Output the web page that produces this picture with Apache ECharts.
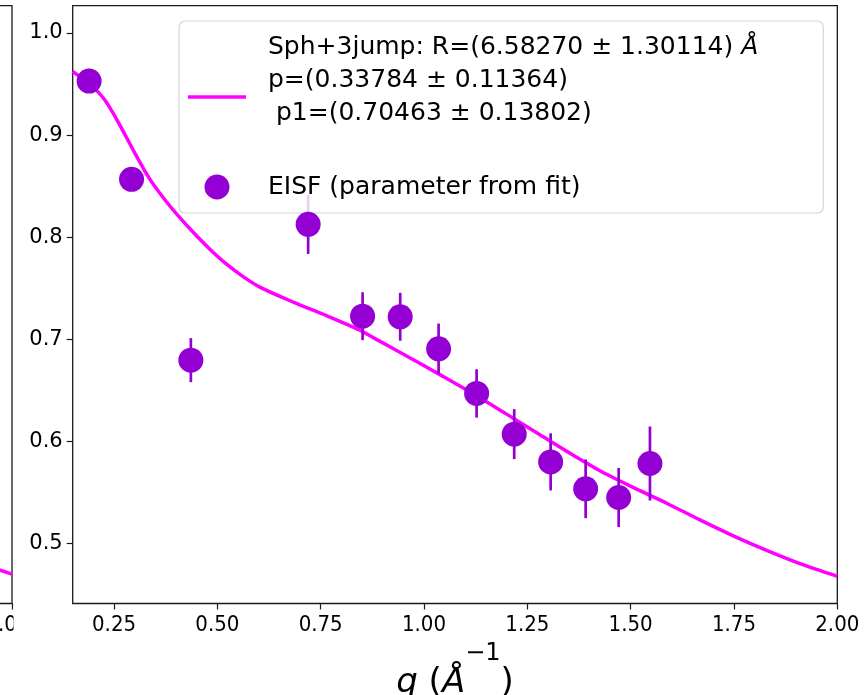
<!DOCTYPE html>
<html><head><meta charset="utf-8">
<script src="https://cdn.jsdelivr.net/npm/echarts@6/dist/echarts.min.js"></script>
<style>html,body{margin:0;padding:0;background:#fff}#c{width:866px;height:695px}</style>
</head><body><div id="c"></div>
<script>
// ---- data ----
const qData   = [0.1897,0.2924,0.4359,0.7197,0.8514,0.9424,1.0353,1.1273,1.2183,1.3064,1.3911,1.4710,1.5467];
const eisf    = [0.9529,0.8566,0.6794,0.8125,0.7225,0.7219,0.6905,0.6468,0.6069,0.5797,0.5533,0.5448,0.5781];
const eisfErr = [0.010,0.010,0.0216,0.029,0.0235,0.0235,0.0248,0.0237,0.0245,0.028,0.0288,0.029,0.0363];
const fitQ = [0.1496,0.1914,0.2277,0.2640,0.3003,0.3366,0.3729,0.4092,0.4455,0.4818,0.5223,0.5624,0.6029,0.6835,0.7643,0.8449,0.8771,0.9579,1.0385,1.1191,1.1999,1.2805,1.3611,1.4419,1.5225,1.5871,1.6677,1.7483,1.8291,1.9097,2.0];
const fitV = [0.9623,0.9500,0.9343,0.9098,0.8824,0.8568,0.8366,0.8190,0.8030,0.7882,0.7735,0.7613,0.7510,0.7363,0.7230,0.7088,0.7015,0.6835,0.6652,0.6465,0.6265,0.6063,0.5863,0.5675,0.5515,0.5392,0.5228,0.5072,0.4930,0.4800,0.4676];
const leftFitQ = [1.95, 2.0];
const leftFitV = [0.4766, 0.4696];
const xTicks = [0.25,0.50,0.75,1.00,1.25,1.50,1.75,2.00];
const yTicks = [0.5,0.6,0.7,0.8,0.9,1.0];
const fitName = 'Sph+3jump: R=(6.58270 \u00b1 1.30114) \u00c5\np=(0.33784 \u00b1 0.11364)\n p1=(0.70463 \u00b1 0.13802)\n';
const eisfName = 'EISF (parameter from fit)';
const xName = '{q|q}{p| (}{a|\u00c5}{s|\u22121}{p|)}';

const FONT = 'DejaVu Sans';
const XFONT = "'DejaVu Sans Condensed', 'DejaVu Sans'";
const VIOLET = '#9400D3';
const MAGENTA = '#FF00FF';
const INK = '#1a1a1a';

const chart = echarts.init(document.getElementById('c'), null, {renderer:'canvas'});
const zip = (a,b) => a.map((v,i)=>[v,b[i]]);

const xAxisBase = (gi) => ({
  type:'value', gridIndex:gi, min:0.15, max:2.0,
  axisLine:{show:false}, splitLine:{show:false},
  axisTick:{show:true, length:6, lineStyle:{color:INK, width:1.2}, customValues:xTicks},
  axisLabel:{customValues:xTicks, margin:11, fontFamily:XFONT, fontSize:22, color:'#000', formatter:v=>v.toFixed(2)}
});
const yAxisBase = (gi) => ({
  type:'value', gridIndex:gi, min:0.4409, max:1.0268,
  axisLine:{show:false}, splitLine:{show:false},
  axisTick:{show:true, length:6, lineStyle:{color:INK, width:1.2}, customValues:yTicks},
  axisLabel:{customValues:yTicks, margin:10, fontFamily:FONT, fontSize:21, color:'#000', formatter:v=>v.toFixed(1)}
});

const leftX = xAxisBase(0);
leftX.axisLabel.padding = [0, 9, 0, 0];

const mainX = xAxisBase(1);
Object.assign(mainX, {
  name: xName, nameLocation:'middle', nameGap: 33,
  nameTextStyle:{
    color:'#000', fontFamily:FONT,
    rich:{
      q:{fontSize:34, fontStyle:'italic', fontFamily:FONT, color:'#000', lineHeight:84},
      p:{fontSize:34, fontFamily:FONT, color:'#000', lineHeight:84},
      a:{fontSize:34, fontStyle:'italic', fontFamily:FONT, color:'#000', lineHeight:84},
      s:{fontSize:24, fontFamily:FONT, color:'#000', lineHeight:24, verticalAlign:'top'}
    }
  }
});

chart.setOption({
  animation: false,
  backgroundColor: '#fff',
  grid: [
    {left: -752.6, width: 764.6, top: 5.7, bottom: 91.5, show: true, borderColor: INK, borderWidth: 1.3, containLabel: false, outerBoundsMode:'none'},
    {left: 72.7, right: 28.7, top: 5.7, bottom: 91.5, show: true, borderColor: INK, borderWidth: 1.3, backgroundColor: '#fff', containLabel: false, outerBoundsMode:'none'}
  ],
  xAxis: [ leftX, mainX ],
  yAxis: [ yAxisBase(0), yAxisBase(1) ],
  legend: {
    data:[{name:fitName, icon:'path://M0,0H58V3.6H0Z'}, {name:eisfName}],
    orient:'vertical', left:179, top:21,
    padding:[10,65,9.5,9],
    itemWidth:58, itemHeight:25, itemGap:7.5,
    backgroundColor:'rgba(255,255,255,0.8)',
    borderColor:'#d6d6d6', borderWidth:1.2, borderRadius:6,
    selectedMode:false,
    formatter: n => n.replace('\u00c5', '{it|\u00c5}'),
    textStyle:{
      fontFamily:FONT, fontSize:25, lineHeight:33, color:'#000', padding:[0,0,0,17],
      rich:{ it:{fontFamily:FONT, fontSize:25, lineHeight:33, fontStyle:'italic', color:'#000'} }
    }
  },
  graphic: [
    {type:'rect', z:100, shape:{x:13.5, y:606, width:56, height:32}, style:{fill:'#fff'}}
  ],
  series: [
    {type:'line', xAxisIndex:0, yAxisIndex:0, data:zip(leftFitQ,leftFitV), symbol:'none',
     lineStyle:{color:MAGENTA, width:3.5}, clip:true, silent:true},
    {name:fitName, type:'line', xAxisIndex:1, yAxisIndex:1, data:zip(fitQ,fitV), symbol:'none',
     smooth:0.3, color:MAGENTA, lineStyle:{color:MAGENTA, width:3.5}, z:2, clip:true},
    {type:'custom', xAxisIndex:1, yAxisIndex:1, z:3,
     data: qData.map((q,i)=>[q, eisf[i]-eisfErr[i], eisf[i]+eisfErr[i]]),
     encode:{x:0, y:[1,2]},
     renderItem:(params, api) => {
       const a = api.coord([api.value(0), api.value(1)]);
       const b = api.coord([api.value(0), api.value(2)]);
       return {type:'line', shape:{x1:a[0], y1:a[1], x2:b[0], y2:b[1]}, style:{stroke:VIOLET, lineWidth:2.7}};
     }},
    {name:eisfName, type:'scatter', xAxisIndex:1, yAxisIndex:1, data:zip(qData,eisf),
     symbol:'circle', symbolSize:25, itemStyle:{color:VIOLET, opacity:1}, z:4}
  ]
});
</script>
</body></html>
